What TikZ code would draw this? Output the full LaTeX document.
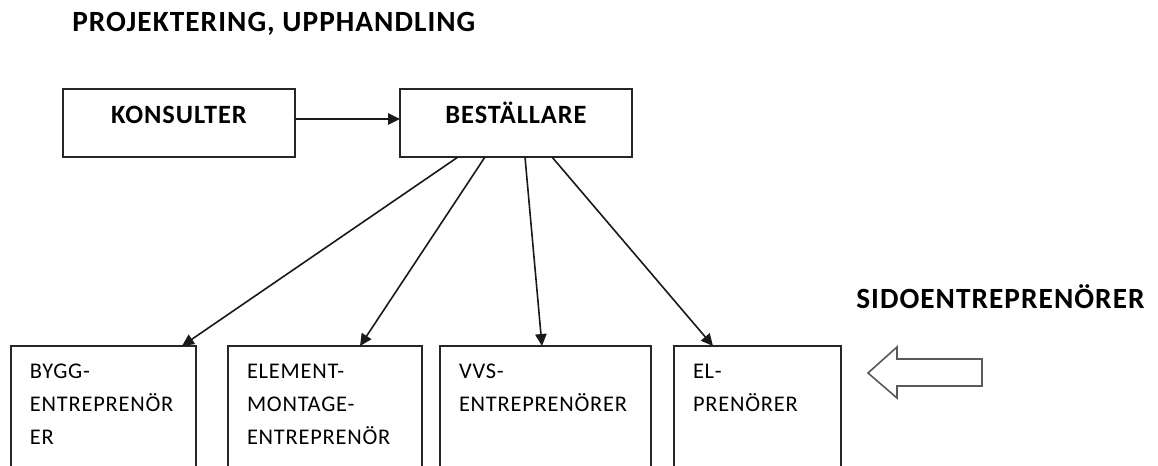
\documentclass[tikz,border=0pt]{standalone}
\usepackage{fontspec}
\setmainfont{Carlito}[LetterSpace=3.5]
\usetikzlibrary{positioning, arrows.meta}

\begin{document}
\begin{tikzpicture}[x=0.75pt, y=-0.75pt,
  heading/.style={anchor=base west, inner sep=0pt, font=\fontsize{22}{26}\selectfont\bfseries},
  topbox/.style={rectangle, draw=black!85, line width=1.4pt, outer sep=0pt, inner xsep=4pt, inner ysep=0pt, minimum width=174pt, text height=25.5pt, text depth=25.5pt, font=\fontsize{19.8}{24}\selectfont\bfseries},
  sidebox/.style={rectangle, draw=black!85, line width=1.4pt, outer sep=0pt, inner xsep=14.25pt, inner ysep=0pt, align=left, text height=24pt, text depth=91.5pt, font=\fontsize{16.8}{24.75}\selectfont},
  arr/.style={-{Triangle[length=9pt, width=8.5pt]}, line width=1.2pt, black!90},
  hollow/.style={draw=black!65, line width=1.2pt, fill=white}
]
\useasboundingbox (0,0) rectangle (1158,465);
\clip (0,0) rectangle (1158,465);

\node[heading] (fas) at (72,31) {PROJEKTERING, UPPHANDLING};
\node[heading] (sido) at (856,308) {SIDOENTREPRENÖRER};

\node[topbox] (konsulter) at (179,123) {KONSULTER};
\node[topbox, right=78.75pt of konsulter] (bestallare) {BESTÄLLARE};

\node[sidebox, anchor=north west, text width=110.25pt] (bygg) at (11,346) {BYGG-\\ENTREPRENÖR\\ER};
\node[sidebox, right=24pt of bygg, text width=117pt] (element) {ELEMENT-\\MONTAGE-\\ENTREPRENÖR};
\node[sidebox, right=13.5pt of element, text width=129.75pt] (vvs) {VVS-\\ENTREPRENÖRER};
\node[sidebox, right=17.25pt of vvs, text width=96.75pt] (el) {EL-\\PRENÖRER};

\draw[arr] ([yshift=3pt]konsulter.east) -- ([yshift=3pt]bestallare.west);
\draw[arr] ([xshift=43.5pt]bestallare.south west) -- ([xshift=-10.5pt]bygg.north east);
\draw[arr] ([xshift=63.75pt]bestallare.south west) -- ([xshift=99pt]element.north west);
\draw[arr] ([xshift=93.75pt]bestallare.south west) -- ([xshift=76.5pt]vvs.north west);
\draw[arr] ([xshift=114pt]bestallare.south west) -- ([xshift=29.25pt]el.north west);

\draw[hollow] (868,373) -- (897,347) -- (897,359) -- (982,359) -- (982,386) -- (897,386) -- (897,398) -- cycle;
\end{tikzpicture}
\end{document}
